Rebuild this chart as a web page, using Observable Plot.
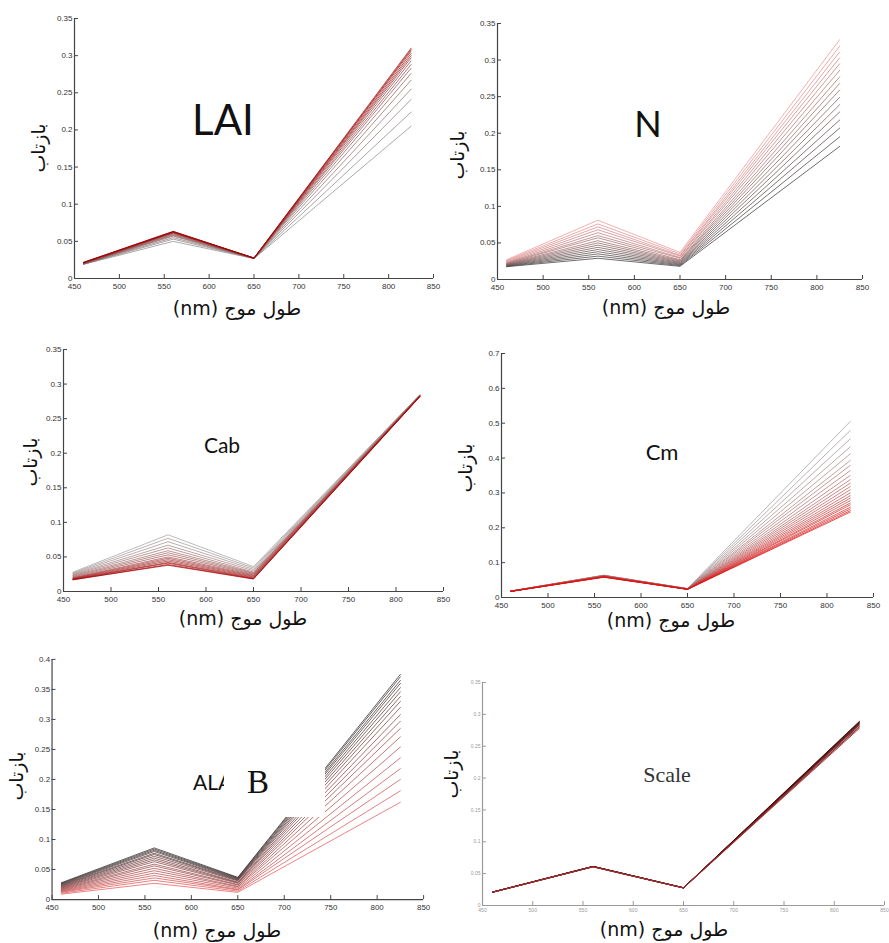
<!DOCTYPE html>
<html>
<head>
<meta charset="utf-8">
<script src="https://cdn.jsdelivr.net/npm/d3@7"></script>
<script src="https://cdn.jsdelivr.net/npm/@observablehq/plot@0.6"></script>
<style>
  html, body { margin: 0; padding: 0; background: #fff; }
  #root { position: relative; width: 889px; height: 943px; overflow: hidden; background: #fff; }
  .crop { position: absolute; overflow: hidden; }
  .lbl { position: absolute; white-space: nowrap; color: #111; }
  .ylab { font-family: "DejaVu Sans", sans-serif; font-size: 19px; transform: translate(-50%, -50%) rotate(-90deg); }
  .xlab { font-family: "DejaVu Sans", sans-serif; font-size: 19px; transform: translate(-50%, -50%); }
  .ttl { transform: translate(-50%, 0); }
</style>
</head>
<body>
<div id="root"></div>
<script>
// ---------- data ----------
const WAVELENGTHS = [460, 560, 650, 825];
const X_TICKS = [450, 500, 550, 600, 650, 700, 750, 800, 850];
const Y_TICKS_035 = [0, 0.05, 0.1, 0.15, 0.2, 0.25, 0.3, 0.35];
const Y_TICKS_04 = [0, 0.05, 0.1, 0.15, 0.2, 0.25, 0.3, 0.35, 0.4];
const Y_TICKS_07 = [0, 0.1, 0.2, 0.3, 0.4, 0.5, 0.6, 0.7];
const Y_LABEL = "بازتاب";
const X_LABEL = "طول موج (nm)";
const TITLES = ["LAI", "N", "Cab", "Cm", "ALA", "Scale"];

// LAI (gray = low, red = high)
const LAI_460 = [0.019, 0.0192, 0.0194, 0.0196, 0.0198, 0.020, 0.0202, 0.0204, 0.0206, 0.0208, 0.021, 0.0212, 0.0214, 0.0216, 0.0218];
const LAI_560 = [0.050, 0.053, 0.055, 0.057, 0.058, 0.059, 0.060, 0.061, 0.0615, 0.062, 0.0623, 0.0626, 0.0629, 0.0632, 0.0635];
const LAI_650 = [0.0268, 0.0269, 0.027, 0.027, 0.0271, 0.0271, 0.0272, 0.0272, 0.0273, 0.0273, 0.0274, 0.0274, 0.0275, 0.0275, 0.0276];
const LAI_825 = [0.205, 0.224, 0.241, 0.255, 0.267, 0.276, 0.283, 0.288, 0.293, 0.297, 0.300, 0.303, 0.306, 0.308, 0.310];

// N (dark = low, pink = high)
const N_460 = [0.0175, 0.018, 0.0185, 0.019, 0.0195, 0.020, 0.0205, 0.021, 0.0215, 0.022, 0.0225, 0.023, 0.024, 0.025, 0.026, 0.027];
const N_560 = [0.029, 0.032, 0.035, 0.038, 0.041, 0.044, 0.047, 0.050, 0.053, 0.057, 0.060, 0.064, 0.068, 0.072, 0.076, 0.081];
const N_650 = [0.018, 0.019, 0.020, 0.021, 0.022, 0.023, 0.024, 0.025, 0.026, 0.027, 0.029, 0.030, 0.032, 0.033, 0.035, 0.037];
const N_825 = [0.182, 0.195, 0.207, 0.218, 0.229, 0.239, 0.249, 0.259, 0.268, 0.277, 0.286, 0.295, 0.303, 0.311, 0.319, 0.328];

// Cab (gray = low, red = high)
const CAB_460 = [0.028, 0.027, 0.026, 0.025, 0.024, 0.023, 0.022, 0.021, 0.020, 0.0195, 0.019, 0.0185, 0.018, 0.0175, 0.017, 0.017];
const CAB_560 = [0.082, 0.077, 0.072, 0.067, 0.063, 0.059, 0.056, 0.053, 0.050, 0.048, 0.046, 0.044, 0.042, 0.041, 0.039, 0.038];
const CAB_650 = [0.036, 0.034, 0.032, 0.030, 0.028, 0.027, 0.026, 0.025, 0.024, 0.023, 0.022, 0.021, 0.020, 0.019, 0.0185, 0.018];
const CAB_825 = [0.2845, 0.2843, 0.2841, 0.2839, 0.2837, 0.2835, 0.2833, 0.2831, 0.2829, 0.2827, 0.2825, 0.2823, 0.2821, 0.2819, 0.2817, 0.2815];

// Cm (gray = low, red = high)
const CM_460 = [0.0185, 0.0185, 0.0184, 0.0184, 0.0183, 0.0183, 0.0182, 0.0182, 0.0181, 0.0181, 0.018, 0.018, 0.018, 0.0179, 0.0179, 0.0178, 0.0178, 0.0177, 0.0177, 0.0176, 0.0176, 0.0175, 0.0175];
const CM_560 = [0.064, 0.0637, 0.0635, 0.0632, 0.063, 0.0627, 0.0625, 0.0622, 0.062, 0.0617, 0.0615, 0.0612, 0.061, 0.0607, 0.0605, 0.0602, 0.060, 0.0597, 0.0595, 0.0592, 0.059, 0.0585, 0.058];
const CM_650 = [0.0255, 0.0254, 0.0253, 0.0252, 0.0251, 0.025, 0.0249, 0.0248, 0.0247, 0.0246, 0.0245, 0.0244, 0.0243, 0.0242, 0.0241, 0.024, 0.0239, 0.0238, 0.0237, 0.0236, 0.0235, 0.0234, 0.0233];
const CM_825 = [0.505, 0.479, 0.455, 0.432, 0.412, 0.393, 0.379, 0.364, 0.350, 0.338, 0.328, 0.318, 0.309, 0.300, 0.292, 0.285, 0.278, 0.271, 0.266, 0.259, 0.254, 0.249, 0.245];

// ALA (black = high, red = low)
const ALA_460 = [0.028, 0.027, 0.026, 0.025, 0.024, 0.023, 0.022, 0.021, 0.020, 0.019, 0.018, 0.017, 0.016, 0.015, 0.014, 0.013, 0.012, 0.0105, 0.009];
const ALA_560 = [0.086, 0.084, 0.082, 0.080, 0.077, 0.075, 0.072, 0.069, 0.066, 0.063, 0.059, 0.056, 0.052, 0.048, 0.044, 0.040, 0.036, 0.032, 0.027];
const ALA_650 = [0.037, 0.036, 0.035, 0.034, 0.033, 0.032, 0.031, 0.029, 0.028, 0.027, 0.025, 0.024, 0.022, 0.021, 0.019, 0.017, 0.016, 0.014, 0.012];
const ALA_825 = [0.375, 0.371, 0.365, 0.360, 0.353, 0.346, 0.338, 0.330, 0.320, 0.308, 0.297, 0.285, 0.271, 0.254, 0.236, 0.218, 0.200, 0.181, 0.162];

// Scale
const SCALE_460 = [0.0212, 0.0211, 0.021, 0.021, 0.0209, 0.0209, 0.0208, 0.0208, 0.0207, 0.0206];
const SCALE_560 = [0.0615, 0.0614, 0.0613, 0.0612, 0.0611, 0.061, 0.0609, 0.0608, 0.0607, 0.0606];
const SCALE_650 = [0.0279, 0.0278, 0.0278, 0.0277, 0.0277, 0.0276, 0.0276, 0.0275, 0.0275, 0.0274];
const SCALE_825 = [0.289, 0.288, 0.287, 0.286, 0.285, 0.284, 0.283, 0.281, 0.280, 0.278];

// ---------- helpers ----------
function buildRows(a460, a560, a650, a825) {
  const cols = [a460, a560, a650, a825];
  const rows = [];
  for (let i = 0; i < a460.length; i++) {
    cols.forEach((col, k) => rows.push({ i, wl: WAVELENGTHS[k], v: col[i] }));
  }
  return rows;
}
const fmt = d3.format("~g");

const panels = [
  { rows: buildRows(LAI_460, LAI_560, LAI_650, LAI_825), n: LAI_460.length, c0: "#8a8a8a", c1: "#a00000", ymax: 0.35, yTicks: Y_TICKS_035,
    ax: 74, top: 18, bottom: 278, right: 433, crop: null,
    ylab: [38, 148], xlab: [237, 308], title: { text: TITLES[0], x: 223, base: 132, size: 42, font: "Lato, 'Open Sans', sans-serif" } },
  { rows: buildRows(N_460, N_560, N_650, N_825), n: N_460.length, c0: "#333333", c1: "#f09090", ymax: 0.35, yTicks: Y_TICKS_035,
    ax: 497, top: 23, bottom: 279, right: 862, crop: null,
    ylab: [457, 155], xlab: [666, 307], title: { text: TITLES[1], x: 648, base: 135, size: 36, font: "Lato, 'Open Sans', sans-serif" } },
  { rows: buildRows(CAB_460, CAB_560, CAB_650, CAB_825), n: CAB_460.length, c0: "#a0a0a0", c1: "#a80000", ymax: 0.35, yTicks: Y_TICKS_035,
    ax: 63, top: 349, bottom: 591, right: 443, crop: null,
    ylab: [30, 462], xlab: [243, 618], title: { text: TITLES[2], x: 222, base: 451, size: 21, font: "Lato, 'Open Sans', sans-serif" } },
  { rows: buildRows(CM_460, CM_560, CM_650, CM_825), n: CM_460.length, c0: "#9a9a9a", c1: "#e01010", ymax: 0.7, yTicks: Y_TICKS_07,
    ax: 501, top: 353, bottom: 597, right: 873, crop: null,
    ylab: [465, 468], xlab: [671, 620], title: { text: TITLES[3], x: 662, base: 459, size: 22, font: "Lato, 'Open Sans', sans-serif" } },
  { rows: buildRows(ALA_460, ALA_560, ALA_650, ALA_825), n: ALA_460.length, c0: "#222222", c1: "#e85050", ymax: 0.4, yTicks: Y_TICKS_04,
    ax: 52, top: 659, bottom: 902, right: 428, crop: 433,
    ylab: [16, 776], xlab: [217, 930], title: null },
  { rows: buildRows(SCALE_460, SCALE_560, SCALE_650, SCALE_825), n: SCALE_460.length, c0: "#2a0000", c1: "#a03030", ymax: 0.35, yTicks: Y_TICKS_035,
    ax: 482, top: 682, bottom: 905, right: 884, crop: null, faint: true,
    ylab: [451, 774], xlab: [664, 929], title: { text: TITLES[5], x: 667, base: 782, size: 22, font: "'Liberation Serif', 'DejaVu Serif', serif", color: "#333" } }
];

const root = document.getElementById("root");
const ML = 40, MT = 8, MB = 18, MR = 10;

panels.forEach((p) => {
  const color = (i) => d3.interpolateRgb(p.c0, p.c1)(p.n > 1 ? i / (p.n - 1) : 0);
  const axisColor = p.faint ? "#9a9a9a" : "#444";
  const tickFont = p.faint ? 5 : 8;
  const w = ML + (p.right - p.ax) + MR;
  const h = MT + (p.bottom - p.top) + MB;
  const chart = Plot.plot({
    width: w, height: h,
    marginLeft: ML, marginRight: MR, marginTop: MT, marginBottom: MB,
    x: { domain: [450, 850] },
    y: { domain: [0, p.ymax] },
    style: { background: "transparent", color: axisColor, fontFamily: "'Liberation Sans', Arial, sans-serif", fontSize: tickFont + "px", overflow: "visible" },
    marks: [
      Plot.line(p.rows, { x: "wl", y: "v", z: "i", stroke: (d) => color(d.i), strokeWidth: p.faint ? 1 : 0.8, strokeOpacity: 0.9 }),
      Plot.ruleX([450], { stroke: axisColor, strokeWidth: 1.2 }),
      Plot.ruleY([0], { stroke: axisColor, strokeWidth: 1.2 }),
      Plot.axisX({ ticks: X_TICKS, tickSize: -4, tickPadding: p.faint ? 7 : 9, tickFormat: fmt, label: null, fontSize: tickFont, fill: p.faint ? "#999" : "#333" }),
      Plot.axisY({ ticks: p.yTicks, tickSize: -4, tickPadding: 6, tickFormat: fmt, label: null, fontSize: tickFont, fill: p.faint ? "#999" : "#333" })
    ]
  });
  const box = document.createElement("div");
  box.className = "crop";
  box.style.left = (p.ax - ML) + "px";
  box.style.top = (p.top - MT) + "px";
  box.style.width = (p.crop ? p.crop - (p.ax - ML) : w) + "px";
  box.style.height = h + "px";
  box.appendChild(chart);
  root.appendChild(box);

  if (p.ylab) {
    const yl = document.createElement("div");
    yl.className = "lbl ylab";
    yl.textContent = Y_LABEL;
    yl.style.left = p.ylab[0] + "px";
    yl.style.top = p.ylab[1] + "px";
    root.appendChild(yl);
  }
  const xl = document.createElement("div");
  xl.className = "lbl xlab";
  xl.dir = "rtl";
  xl.textContent = X_LABEL;
  xl.style.left = p.xlab[0] + "px";
  xl.style.top = p.xlab[1] + "px";
  root.appendChild(xl);

  if (p.title) {
    const t = document.createElement("div");
    t.className = "lbl ttl";
    t.textContent = p.title.text;
    t.style.fontFamily = p.title.font;
    t.style.fontSize = p.title.size + "px";
    t.style.lineHeight = "1";
    t.style.color = p.title.color || "#111";
    t.style.left = p.title.x + "px";
    t.style.top = (p.title.base - p.title.size * 0.82) + "px";
    root.appendChild(t);
  }
});

// ALA panel: "ALA" title partly covered by a white patch carrying "B"
const alaT = document.createElement("div");
alaT.className = "lbl";
alaT.textContent = TITLES[4];
alaT.style.fontFamily = "Lato, 'Open Sans', sans-serif";
alaT.style.fontSize = "21px"; alaT.style.lineHeight = "1";
alaT.style.left = "193px"; alaT.style.top = (788 - 21 * 0.82) + "px";
root.appendChild(alaT);
const patch = document.createElement("div");
patch.style.cssText = "position:absolute;left:224px;top:764px;width:101px;height:53px;background:#fff;";
const bTxt = document.createElement("div");
bTxt.textContent = "B";
bTxt.style.cssText = "position:absolute;left:23px;top:2px;font-family:'Liberation Serif','DejaVu Serif',serif;font-size:33px;line-height:1;color:#111;";
patch.appendChild(bTxt);
root.appendChild(patch);
</script>
</body>
</html>
